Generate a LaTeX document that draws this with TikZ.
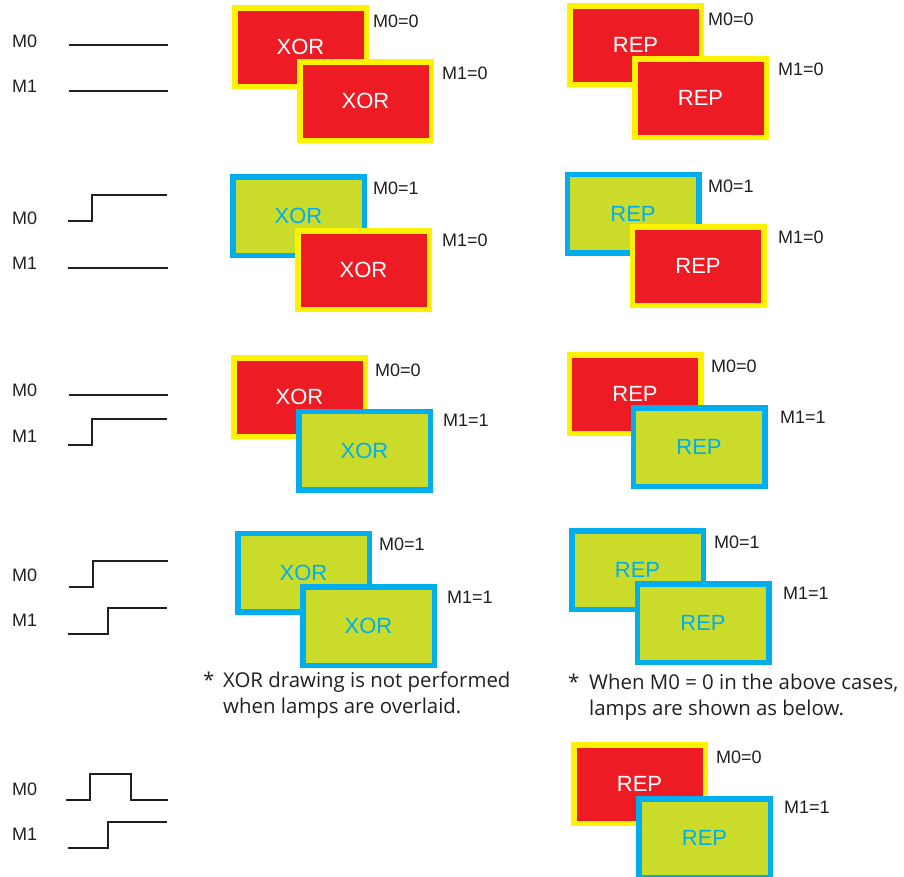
\documentclass[tikz,border=0pt]{standalone}
\usepackage{fontspec}
\setmainfont{Liberation Sans}
\newfontfamily\notefont{Open Sans}
\definecolor{lampred}{HTML}{ED1C24}
\definecolor{lampyel}{HTML}{FFF200}
\definecolor{lampgrn}{HTML}{CBDB2A}
\definecolor{lampcyan}{HTML}{00AEEF}
\definecolor{ink}{HTML}{231F20}
\tikzset{
  lamp/.style={rectangle, line width=5.5pt, minimum width=131.5pt, minimum height=78.5pt, inner sep=0pt,
    font=\fontsize{22}{24}\selectfont},
  offlamp/.style={lamp, draw=lampyel, fill=lampred, text=white},
  onlamp/.style={lamp, draw=lampcyan, fill=lampgrn, text=lampcyan},
  state/.style={anchor=west, inner sep=0pt, text=ink, font=\fontsize{18}{20}\selectfont},
  sig/.style={anchor=west, inner sep=0pt, text=ink, font=\fontsize{18}{20}\selectfont},
  wave/.style={line width=2.6pt, draw=ink},
  note/.style={anchor=base west, inner sep=0pt, text=ink,
    font=\notefont\fontsize{20.4}{27}\selectfont},
}
\begin{document}
\begin{tikzpicture}[x=1pt,y=-1pt]
\useasboundingbox (0,0) rectangle (904,876);
% ---------- waveforms ----------
\node[sig] (s1a) at (12,41) {M0};
\node[sig] (s1b) at (12,86) {M1};
\draw[wave] (69,45) -- (168,45);
\draw[wave] (69,91) -- (168,91);

\node[sig] (s2a) at (12,218) {M0};
\node[sig] (s2b) at (12,263) {M1};
\draw[wave] (68,221) -- (92,221) -- (92,195) -- (167,195);
\draw[wave] (68,268) -- (168,268);

\node[sig] (s3a) at (12,390) {M0};
\node[sig] (s3b) at (12,436) {M1};
\draw[wave] (69,395) -- (168,395);
\draw[wave] (68,445) -- (92,445) -- (92,419) -- (167,419);

\node[sig] (s4a) at (12,575) {M0};
\node[sig] (s4b) at (12,620) {M1};
\draw[wave] (69,587) -- (93,587) -- (93,561) -- (168,561);
\draw[wave] (68,634) -- (108,634) -- (108,608) -- (167,608);

\node[sig] (s5a) at (12,789) {M0};
\node[sig] (s5b) at (12,834) {M1};
\draw[wave] (66,800) -- (90,800) -- (90,774) -- (131,774) -- (131,800) -- (168,800);
\draw[wave] (68,848) -- (108,848) -- (108,822) -- (167,822);

% ---------- XOR column ----------
\node[offlamp] (x1a) at (300.5,47) {XOR};
\node[offlamp] (x1b) at (365.5,101) {XOR};
\node[state] (lx1a) at (373,21) {M0=0};
\node[state] (lx1b) at (442,73) {M1=0};

\node[onlamp] (x2a) at (298.5,216) {XOR};
\node[offlamp] (x2b) at (363.5,270) {XOR};
\node[state] (lx2a) at (373,188) {M0=1};
\node[state] (lx2b) at (442,240) {M1=0};

\node[offlamp] (x3a) at (299.5,397) {XOR};
\node[onlamp] (x3b) at (364.5,450.5) {XOR};
\node[state] (lx3a) at (375,370) {M0=0};
\node[state] (lx3b) at (443,420) {M1=1};

\node[onlamp] (x4a) at (303.5,572.5) {XOR};
\node[onlamp] (x4b) at (368.5,626) {XOR};
\node[state] (lx4a) at (379,544) {M0=1};
\node[state] (lx4b) at (447,597) {M1=1};

\node[note] (nxs) at (203,687) {*};
\node[note] (nx1) at (223,687) {XOR drawing is not performed};
\node[note] (nx2) at (223,713.5) {when lamps are overlaid.};

% ---------- REP column ----------
\node[offlamp] (r1a) at (635.5,45) {REP};
\node[offlamp] (r1b) at (700.5,98) {REP};
\node[state] (lr1a) at (708,19) {M0=0};
\node[state] (lr1b) at (778,69) {M1=0};

\node[onlamp] (r2a) at (633,213.5) {REP};
\node[offlamp] (r2b) at (698,266) {REP};
\node[state] (lr2a) at (708,186) {M0=1};
\node[state] (lr2b) at (778,237) {M1=0};

\node[offlamp] (r3a) at (635,394) {REP};
\node[onlamp] (r3b) at (699,447) {REP};
\node[state] (lr3a) at (711,366) {M0=0};
\node[state] (lr3b) at (780,417) {M1=1};

\node[onlamp] (r4a) at (637.5,570) {REP};
\node[onlamp] (r4b) at (703,623) {REP};
\node[state] (lr4a) at (714,542) {M0=1};
\node[state] (lr4b) at (783,593) {M1=1};

\node[note] (nrs) at (568,689) {*};
\node[note] (nr1) at (589,689) {When M0 = 0 in the above cases,};
\node[note] (nr2) at (589,715.5) {lamps are shown as below.};

\node[offlamp] (r5a) at (639.5,784) {REP};
\node[onlamp] (r5b) at (704.5,838) {REP};
\node[state] (lr5a) at (716,757) {M0=0};
\node[state] (lr5b) at (784,807) {M1=1};
\end{tikzpicture}
\end{document}
